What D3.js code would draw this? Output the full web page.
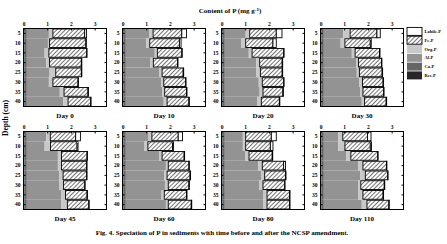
<!DOCTYPE html>
<html>
<head>
<meta charset="utf-8">
<script src="https://cdn.jsdelivr.net/npm/d3@7"></script>
<style>
body { margin: 0; background: #fff; }
text { font-family: "Liberation Serif", "Times New Roman", serif; font-weight: bold; fill: #000; }
</style>
</head>
<body>
<svg width="447" height="244"></svg>
<script>
// sampling days and depths (cm)
var days = ["Day 0", "Day 10", "Day 20", "Day 30", "Day 45", "Day 60", "Day 80", "Day 110"];
var depths = [5, 10, 15, 20, 25, 30, 35, 40];
var xTicks = [0, 1, 2, 3];

// P fractions (mg/g), one row per day, one value per depth
var resP = [
  [0.04,0.04,0.04,0.04,0.04,0.04,0.04,0.04],
  [0.04,0.04,0.04,0.04,0.04,0.04,0.04,0.04],
  [0.04,0.04,0.04,0.04,0.04,0.04,0.04,0.04],
  [0.04,0.04,0.04,0.04,0.04,0.04,0.04,0.04],
  [0.04,0.04,0.04,0.04,0.04,0.04,0.04,0.04],
  [0.04,0.04,0.04,0.04,0.04,0.04,0.04,0.04],
  [0.04,0.04,0.04,0.04,0.04,0.04,0.04,0.04],
  [0.04,0.04,0.04,0.04,0.04,0.04,0.04,0.04]
];
var caP = [
  [0.10,0.10,0.10,0.10,0.10,0.10,0.10,0.10],
  [0.10,0.10,0.10,0.10,0.10,0.10,0.10,0.10],
  [0.10,0.10,0.10,0.10,0.10,0.10,0.10,0.10],
  [0.10,0.10,0.10,0.10,0.10,0.10,0.10,0.10],
  [0.10,0.10,0.10,0.10,0.10,0.10,0.10,0.10],
  [0.10,0.10,0.10,0.10,0.10,0.10,0.10,0.10],
  [0.10,0.10,0.10,0.10,0.10,0.10,0.10,0.10],
  [0.10,0.10,0.10,0.10,0.10,0.10,0.10,0.10]
];
var alP = [
  [0.93,0.89,0.75,0.82,0.96,0.93,1.39,1.53],
  [0.98,0.85,1.22,1.02,1.42,1.49,1.53,1.60],
  [0.88,0.70,1.01,1.33,1.33,1.43,1.47,1.36],
  [0.82,0.71,1.18,1.36,1.39,1.50,1.53,1.60],
  [0.82,0.75,1.31,1.31,1.36,1.36,1.46,1.46],
  [0.96,0.79,1.42,1.69,1.62,1.65,1.51,1.69],
  [0.76,0.76,0.87,1.41,1.53,1.46,1.61,1.61],
  [0.61,0.61,0.94,1.46,1.53,1.46,1.46,1.60]
];
var orgP = [
  [0.17,0.07,0.18,0.14,0.26,0.17,0.18,0.21],
  [0.17,0.16,0.11,0.14,0.11,0.11,0.11,0.14],
  [0.17,0.18,0.14,0.14,0.17,0.15,0.14,0.18],
  [0.29,0.18,0.14,0.10,0.11,0.13,0.12,0.12],
  [0.17,0.25,0.15,0.15,0.17,0.19,0.17,0.25],
  [0.14,0.14,0.11,0.10,0.12,0.14,0.11,0.10],
  [0.12,0.12,0.15,0.17,0.15,0.15,0.17,0.17],
  [0.19,0.28,0.20,0.19,0.22,0.10,0.19,0.22]
];
var feP = [
  [1.34,1.53,1.59,1.34,1.08,1.06,1.01,0.95],
  [1.21,1.25,1.03,1.02,0.89,0.92,0.92,0.92],
  [1.12,1.15,1.33,0.95,0.92,0.90,0.84,0.76],
  [1.13,1.07,1.03,0.97,0.96,0.87,0.87,0.91],
  [1.07,1.12,1.08,1.06,0.99,0.89,0.91,0.90],
  [1.11,1.04,0.93,0.87,0.97,0.87,0.94,0.97],
  [1.08,1.04,0.98,0.90,0.88,0.91,0.95,0.95],
  [1.04,1.07,1.13,0.99,0.94,0.99,0.85,0.92]
];
var labileP = [
  [0.08,0.02,0.02,0.02,0.02,0.02,0.02,0.02],
  [0.20,0.07,0.02,0.02,0.02,0.02,0.02,0.02],
  [0.24,0.14,0.02,0.02,0.02,0.02,0.02,0.02],
  [0.14,0.04,0.02,0.02,0.02,0.02,0.02,0.02],
  [0.20,0.04,0.02,0.02,0.02,0.02,0.02,0.02],
  [0.18,0.04,0.02,0.02,0.02,0.02,0.02,0.02],
  [0.21,0.11,0.02,0.08,0.02,0.02,0.02,0.02],
  [0.15,0.05,0.02,0.02,0.02,0.02,0.02,0.02]
];

var keys = ["Res-P", "Ca-P", "Al-P", "Org-P", "Fe-P", "Labile-P"];
var fractions = [resP, caP, alP, orgP, feP, labileP];
var fills = {"Res-P": "#262626", "Ca-P": "#666", "Al-P": "#939393",
             "Org-P": "#c8c8c8", "Fe-P": "url(#hatch)", "Labile-P": "#fff"};

var svg = d3.select("svg");

// diagonal hatch for Fe-P
svg.append("defs").append("pattern")
    .attr("id", "hatch")
    .attr("patternUnits", "userSpaceOnUse")
    .attr("width", 3).attr("height", 3)
    .attr("patternTransform", "rotate(45)")
  .call(function(p) {
    p.append("rect").attr("width", 3).attr("height", 3).attr("fill", "#fff");
    p.append("line").attr("x1", 0).attr("y1", 0).attr("x2", 0).attr("y2", 3)
      .attr("stroke", "#000").attr("stroke-width", 1.1);
  });

var pw = 83, ph = 78;
var lefts = [23.5, 122.5, 221.5, 320.5];
var tops = [28.5, 131.5];

var x = d3.scaleLinear().domain([0, 3.5]).range([0, pw]);
var y = d3.scaleBand().domain(depths).range([0, ph]).padding(0);

var stack = d3.stack().keys(keys);

days.forEach(function(day, i) {
  var rows = depths.map(function(dep, j) {
    var r = {depth: dep};
    keys.forEach(function(k, m) { r[k] = fractions[m][i][j]; });
    return r;
  });
  var series = stack(rows);

  var g = svg.append("g")
      .attr("transform", "translate(" + lefts[i % 4] + "," + tops[Math.floor(i / 4)] + ")");

  // gray fractions fill the whole band, Fe-P and Labile-P are outlined bars
  series.forEach(function(s) {
    var boxed = s.key === "Fe-P" || s.key === "Labile-P";
    g.selectAll(null)
      .data(s)
      .enter().append("rect")
        .attr("x", function(d) { return x(d[0]); })
        .attr("y", function(d) { return y(d.data.depth) + (boxed ? 0.5 : 0); })
        .attr("width", function(d) { return Math.max(0, x(d[1]) - x(d[0])); })
        .attr("height", y.bandwidth() - (boxed ? 1 : 0))
        .attr("fill", fills[s.key])
        .attr("stroke", boxed ? "#000" : "none")
        .attr("stroke-width", 0.9);
  });

  // frame
  g.append("rect")
      .attr("width", pw).attr("height", ph)
      .attr("fill", "none").attr("stroke", "#000").attr("stroke-width", 1);

  g.append("g")
      .call(d3.axisTop(x).tickValues(xTicks).tickSize(-2).tickPadding(3).tickFormat(d3.format("d")))
      .call(function(a) {
        a.select(".domain").remove();
        a.selectAll("text").attr("font-size", 5.5);
      });

  g.append("g")
      .call(d3.axisLeft(y).tickSize(-2).tickPadding(3))
      .call(function(a) {
        a.select(".domain").remove();
        a.selectAll("text").attr("font-size", 5.5);
      });

  g.append("g")
      .attr("transform", "translate(" + pw + ",0)")
      .call(d3.axisRight(y).tickSize(-2).tickFormat(""))
      .call(function(a) { a.select(".domain").remove(); });

  g.append("text")
      .attr("x", pw / 2).attr("y", ph + 11)
      .attr("text-anchor", "middle")
      .attr("font-size", 7)
      .text(day);
});

// axis title
var title = svg.append("text")
    .attr("x", 230).attr("y", 13)
    .attr("text-anchor", "middle")
    .attr("font-size", 7);
title.append("tspan").text("Content of P (mg g");
title.append("tspan").attr("dy", -2.5).attr("font-size", 5).text("-1");
title.append("tspan").attr("dy", 2.5).text(")");

svg.append("text")
    .attr("transform", "translate(8,118) rotate(-90)")
    .attr("text-anchor", "middle")
    .attr("font-size", 7.5)
    .text("Depth (cm)");

// legend, top to bottom
var legendKeys = keys.slice().reverse();
var lg = svg.append("g").attr("transform", "translate(407,27)");
legendKeys.forEach(function(k, i) {
  var boxed = k === "Fe-P" || k === "Labile-P";
  lg.append("rect")
      .attr("x", 0).attr("y", i * 8.8 + 0.4)
      .attr("width", 15).attr("height", 8)
      .attr("fill", fills[k])
      .attr("stroke", boxed ? "#000" : "none")
      .attr("stroke-width", 0.9);
  lg.append("text")
      .attr("x", 17.5).attr("y", i * 8.8 + 6)
      .attr("font-size", 4.5)
      .text(k);
});

svg.append("text")
    .attr("x", 222).attr("y", 235)
    .attr("text-anchor", "middle")
    .attr("font-size", 7)
    .text("Fig. 4. Speciation of P in sediments with time before and after the NCSP amendment.");
</script>
</body>
</html>
